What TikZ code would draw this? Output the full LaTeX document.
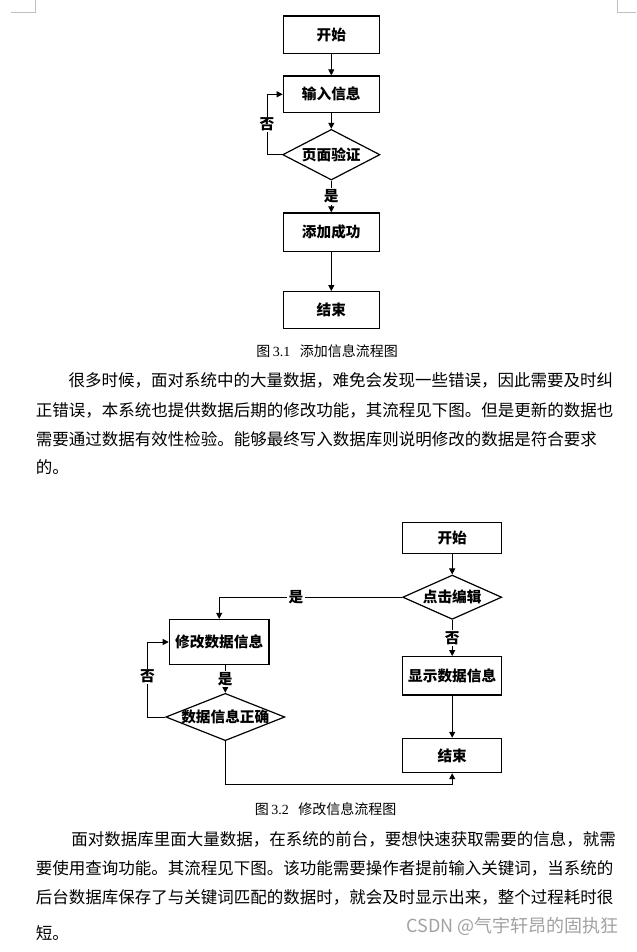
\documentclass[tikz,border=0pt]{standalone}
\usepackage{fontspec}
\setmainfont{Noto Sans CJK SC}
\newfontfamily\latinserif{Liberation Serif}
\usetikzlibrary{arrows.meta,shapes.geometric}
\definecolor{cornergray}{rgb}{0.75, 0.75, 0.75}
\definecolor{markgray}{rgb}{0.63, 0.63, 0.63}

\tikzset{
    procbox/.style={draw, line width=0.9pt, inner sep=0pt,
        font=\fontsize{11}{13}\selectfont\bfseries},
    decision/.style={diamond, draw, line width=0.9pt, inner sep=0pt,
        font=\fontsize{11}{13}\selectfont\bfseries},
    flow/.style={draw, line width=0.75pt, -{Triangle[length=4.5pt, width=4.5pt]}},
    choice/.style={fill=white, inner sep=1pt, font=\fontsize{11}{13}\selectfont\bfseries},
    bodyline/.style={anchor=west, inner sep=0pt, font=\fontsize{12.375}{14}\selectfont},
    caption/.style={inner sep=0pt, font=\fontsize{10.5}{12}\selectfont},
    watermark/.style={anchor=east, inner sep=0pt, text=markgray,
        font=\fontsize{13.5}{15}\selectfont}
}

\begin{document}
\begin{tikzpicture}[x=0.75pt, y=-0.75pt]
    \useasboundingbox (0,0) rectangle (636,952);
    \draw[cornergray, line width=0.75pt] (11,12.3) -- (35.3,12.3) -- (35.3,0);
    \draw[cornergray, line width=0.75pt] (636,12.3) -- (617.3,12.3) -- (617.3,0);

    % figure 3.1
    \node[procbox, minimum width=72pt, minimum height=28pt] (start1) at (331.3,34.7) {开始};
    \node[procbox, minimum width=72pt, minimum height=27.5pt] (input1) at (331.3,94.3) {输入信息};
    \node[decision, aspect=1.9, minimum width=73pt, minimum height=38pt] (check1) at (331.3,154.7) {页面验证};
    \node[procbox, minimum width=72pt, minimum height=29pt] (add1) at (331.3,232.3) {添加成功};
    \node[procbox, minimum width=72pt, minimum height=27.5pt] (end1) at (331.3,310) {结束};

    \draw[flow] (start1) -- (input1);
    \draw[flow] (input1) -- (check1);
    \draw[flow] (check1.west) -- ++(-15,0) |- node[choice, pos=0.25] {否} (input1.west);
    \draw[flow] (check1) -- node[choice] {是} (add1);
    \draw[flow] (add1) -- (end1);

    \node[caption] (cap1) at (327,350.7) {图\hspace{2pt}{\latinserif 3.1}\hspace{7pt}添加信息流程图};

    \node[bodyline] (p1a) at (68.3,380.7) {很多时候，面对系统中的大量数据，难免会发现一些错误，因此需要及时纠};
    \node[bodyline] (p1b) at (35.7,410) {正错误，本系统也提供数据后期的修改功能，其流程见下图。但是更新的数据也};
    \node[bodyline] (p1c) at (35.7,439) {需要通过数据有效性检验。能够最终写入数据库则说明修改的数据是符合要求};
    \node[bodyline] (p1d) at (35.7,467) {的。};

    % figure 3.2
    \node[procbox, minimum width=74.25pt, minimum height=23pt] (start2) at (452.2,538) {开始};
    \node[decision, aspect=2.25, minimum width=74.25pt, minimum height=33.2pt] (click2) at (452.2,597.2) {点击编辑};
    \node[procbox, minimum width=74.25pt, minimum height=28.7pt] (show2) at (452.2,675.8) {显示数据信息};
    \node[procbox, minimum width=74.25pt, minimum height=25.7pt] (end2) at (452.2,755.5) {结束};
    \node[procbox, minimum width=74.8pt, minimum height=33.8pt] (edit2) at (219.2,642) {修改数据信息};
    \node[decision, aspect=2.5, inner sep=-3pt, minimum width=89.25pt, minimum height=35.5pt] (verify2) at (225.3,717) {数据信息正确};
    \coordinate (low2) at (452.2,784);

    \draw[flow] (start2) -- (click2);
    \draw[flow] (click2.west) -| node[choice, pos=0.29] {是} (edit2.north);
    \draw[flow] (click2) -- node[choice] {否} (show2);
    \draw[flow] (show2) -- (end2);
    \draw[flow] (verify2.north |- edit2.south) -- node[choice] {是} (verify2.north);
    \draw[flow] (verify2.west) -- ++(-17.7,0) |- node[choice, pos=0.27] {否} (edit2.west);
    \draw[flow] (verify2.south) |- (low2) -- (end2.south);

    \node[caption] (cap2) at (325.5,809) {图\hspace{2pt}{\latinserif 3.2}\hspace{7pt}修改信息流程图};

    \node[bodyline] (p2a) at (71,839) {面对数据库里面大量数据，在系统的前台，要想快速获取需要的信息，就需};
    \node[bodyline] (p2b) at (35.7,868.3) {要使用查询功能。其流程见下图。该功能需要操作者提前输入关键词，当系统的};
    \node[bodyline] (p2c) at (35.7,897) {后台数据库保存了与关键词匹配的数据时，就会及时显示出来，整个过程耗时很};
    \node[bodyline] (p2d) at (35.7,933) {短。};

    \node[watermark] (mark) at (619,926) {CSDN @气宇轩昂的固执狂};
\end{tikzpicture}
\end{document}
